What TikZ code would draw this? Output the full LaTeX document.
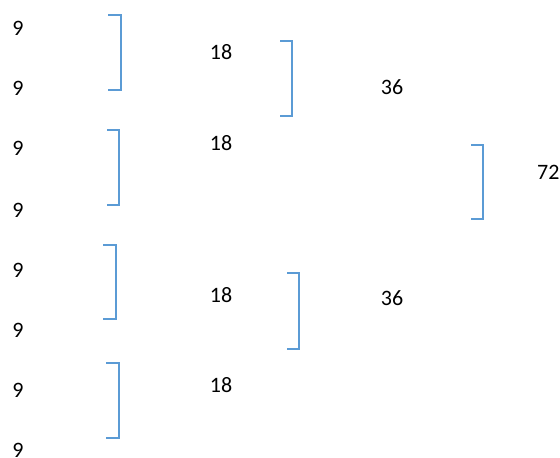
\documentclass[tikz,border=0pt]{standalone}
\usepackage{fontspec}
\setmainfont{Carlito}
\usetikzlibrary{positioning}
\definecolor{brblue}{RGB}{91,155,213}

\tikzset{
  num/.style={font=\fontsize{22}{26}\selectfont, inner sep=0pt},
  brace/.style={draw=brblue, line width=2pt},
}

\begin{document}
\begin{tikzpicture}[x=1pt, y=-1pt]
    \useasboundingbox (0,0) rectangle (560,458);

    % first column
    \foreach \i/\y in {1/28, 2/88, 3/148, 4/210, 5/270, 6/330, 7/390, 8/450}
        \node[num] (n\i) at (18,\y) {9};

    % sums
    \node[num] (s1) at (221,52) {18};
    \node[num] (s2) at (221,143) {18};
    \node[num] (s3) at (221,295) {18};
    \node[num] (s4) at (221,385) {18};
    \node[num] (t1) at (392,87) {36};
    \node[num] (t2) at (392,298) {36};
    \node[num, anchor=west] (f1) at (537,172) {72};

    % brackets
    \foreach \xa/\xb/\ya/\yb in {108/121/15/90, 107/119/130/205, 103/116/245/319, 106/119/363/438,
                                 280/292/41/116, 287/299/273/349, 471/483/145/219}
        \draw[brace] (\xa,\ya) -| (\xb,\yb) -- (\xa,\yb);
\end{tikzpicture}
\end{document}
